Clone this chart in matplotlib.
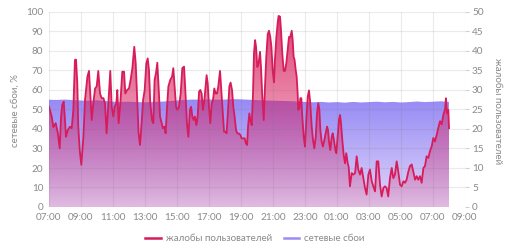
import numpy as np
import matplotlib
matplotlib.use("Agg")
import matplotlib.pyplot as plt
from matplotlib.patches import Polygon
from matplotlib.lines import Line2D

plt.rcParams['font.family'] = ['Lato', 'DejaVu Sans']

# ---------------- data ----------------
x_tick_labels = ["07:00", "09:00", "11:00", "13:00", "15:00", "17:00", "19:00",
                 "21:00", "23:00", "01:00", "03:00", "05:00", "07:00", "09:00"]

# complaints (right axis), hours since 07:00
complaints_h = [
    0.00, 0.17, 0.27, 0.42, 0.55, 0.67, 0.75, 0.83, 0.92, 1.00, 1.06, 1.17, 1.31, 1.42, 1.52,
    1.62, 1.69, 1.77, 1.83, 1.92, 2.02, 2.15, 2.25, 2.40, 2.50, 2.58, 2.67, 2.77, 2.88, 2.98,
    3.08, 3.19, 3.29, 3.40, 3.50, 3.60, 3.71, 3.83, 3.92, 4.02, 4.10, 4.21, 4.27, 4.35, 4.46,
    4.58, 4.69, 4.77, 4.88, 5.00, 5.10, 5.21, 5.33, 5.42, 5.50, 5.60, 5.69, 5.79, 5.88, 5.98,
    6.08, 6.17, 6.25, 6.33, 6.44, 6.52, 6.60, 6.69, 6.77, 6.85, 6.94, 7.04, 7.12, 7.21, 7.29,
    7.38, 7.46, 7.58, 7.69, 7.77, 7.85, 7.94, 8.02, 8.12, 8.23, 8.33, 8.44, 8.52, 8.62, 8.71,
    8.81, 8.88, 8.96, 9.04, 9.12, 9.21, 9.29, 9.38, 9.46, 9.54, 9.62, 9.71, 9.79, 9.85, 9.92,
    10.00, 10.08, 10.17, 10.25, 10.33, 10.42, 10.50, 10.58, 10.69, 10.77, 10.85, 10.94, 11.02,
    11.10, 11.19, 11.27, 11.35, 11.44, 11.52, 11.60, 11.69, 11.77, 11.88, 11.96, 12.04, 12.15,
    12.23, 12.31, 12.38, 12.44, 12.52, 12.60, 12.67, 12.75, 12.81, 12.88, 12.94, 13.02, 13.10,
    13.19, 13.25, 13.33, 13.42, 13.50, 13.58, 13.67, 13.75, 13.83, 13.90, 13.98, 14.06, 14.12,
    14.21, 14.29, 14.35, 14.44, 14.50, 14.58, 14.67, 14.75, 14.83, 14.92, 15.00, 15.08, 15.17,
    15.23, 15.29, 15.35, 15.42, 15.48, 15.54, 15.58, 15.65, 15.71, 15.77, 15.83, 15.92, 16.00,
    16.08, 16.17, 16.25, 16.33, 16.42, 16.50, 16.58, 16.67, 16.75, 16.83, 16.90, 16.96, 17.04,
    17.12, 17.21, 17.29, 17.38, 17.44, 17.50, 17.58, 17.67, 17.73, 17.81, 17.90, 17.96, 18.04,
    18.12, 18.19, 18.25, 18.33, 18.42, 18.50, 18.58, 18.67, 18.73, 18.81, 18.92, 19.02, 19.13,
    19.23, 19.33, 19.44, 19.54, 19.65, 19.75, 19.85, 19.96, 20.06, 20.17, 20.27, 20.38, 20.48,
    20.58, 20.69, 20.79, 20.90, 21.00, 21.10, 21.20, 21.31, 21.42, 21.52, 21.62, 21.73, 21.83,
    21.94, 22.04, 22.15, 22.25, 22.35, 22.46, 22.56, 22.67, 22.77, 22.88, 22.98, 23.08, 23.19,
    23.29, 23.40, 23.50, 23.60, 23.71, 23.81, 23.92, 24.02, 24.12, 24.23, 24.33, 24.44, 24.54,
    24.65, 24.75, 24.81, 24.88, 24.96, 25.00]
complaints = [
    25.7, 23.2, 20.5, 21.5, 19.0, 15.0, 23.0, 26.2, 27.0, 22.3, 18.0, 19.7, 20.6, 20.2, 24.9,
    37.7, 37.8, 31.7, 20.6, 14.6, 10.8, 18.0, 27.4, 33.4, 34.9, 29.1, 22.3, 26.6, 30.4, 30.9,
    34.9, 29.1, 27.9, 27.9, 26.6, 18.9, 26.6, 34.9, 25.7, 23.2, 25.7, 26.6, 30.0, 21.5, 26.6,
    34.7, 34.7, 29.1, 30.0, 30.4, 32.6, 35.6, 41.1, 36.8, 29.1, 18.9, 15.9, 21.5, 27.4, 30.0,
    36.8, 38.1, 35.1, 26.6, 22.3, 21.5, 32.6, 34.4, 37.0, 30.9, 23.2, 21.5, 20.2, 20.6, 18.9,
    25.7, 30.9, 32.6, 33.4, 35.6, 30.9, 25.7, 24.9, 25.7, 29.1, 35.6, 36.0, 30.0, 21.5, 18.0,
    24.9, 25.7, 23.2, 22.3, 23.2, 21.0, 23.2, 29.6, 30.0, 29.1, 24.9, 27.4, 30.9, 33.8, 31.7,
    25.7, 21.5, 26.6, 27.4, 30.4, 29.1, 29.1, 30.9, 34.9, 30.0, 24.9, 19.3, 19.3,
    18.9, 24.9, 30.9, 31.9, 30.0, 25.7, 23.2, 19.7, 18.9, 18.8, 18.5, 17.6, 17.6,
    17.6, 16.3, 15.9, 20.6, 24.0, 22.0, 21.0, 29.1, 39.4, 42.8, 41.1, 35.9, 36.8,
    39.8, 35.9, 28.3, 22.3, 30.9, 38.5, 44.3, 45.2, 43.6, 41.1, 35.1, 32.0, 37.7,
    43.6, 47.1, 49.0, 48.8, 45.4, 39.4, 34.9, 34.9, 36.8, 40.3, 43.6, 43.6, 45.2,
    42.8, 38.5, 37.7, 35.1, 33.4, 29.1, 24.9, 25.3, 27.9, 27.9, 23.2, 18.0, 15.5,
    22.3, 28.3, 29.9, 26.6, 20.6, 17.2, 15.0, 18.0, 24.0, 26.6, 24.9, 19.7, 16.8,
    15.5, 17.2, 18.9, 20.6, 19.7, 16.8, 14.6, 18.0, 18.9, 17.2, 14.6, 13.8, 18.0,
    22.3, 23.6, 21.5, 17.2, 13.3, 11.2, 13.8, 11.2, 10.3, 5.3, 8.7, 8.3, 8.7,
    13.0, 9.6, 8.3, 10.0, 7.4, 4.9, 3.2, 8.3, 9.6, 6.6, 5.3, 4.0, 11.7,
    11.7, 5.7, 2.7, 4.9, 5.3, 4.9, 2.7, 7.4, 10.0, 7.4, 8.3, 11.7, 9.1,
    5.7, 5.3, 6.6, 6.2, 7.0, 9.1, 10.5, 10.9, 9.1, 7.0, 7.9, 7.0, 7.9,
    6.2, 10.0, 10.5, 13.0, 12.6, 14.3, 15.6, 17.7, 16.8, 18.5, 20.3, 22.0, 21.2,
    23.7, 25.0, 27.9, 24.0, 24.9, 20.2]

# network failures, % (left axis), every 30 minutes from 07:00
failures_h = [i * 0.5 for i in range(51)]
failures = [55.0, 54.9, 55.1, 54.8, 54.6, 54.5, 54.7, 54.4, 54.0, 53.9, 54.0, 53.8, 53.7,
            53.9, 54.0, 54.3, 54.6, 54.9, 55.1, 55.0, 55.2, 55.0, 55.1, 55.3, 55.2, 55.0,
            54.8, 54.6, 54.5, 54.4, 54.3, 54.1, 53.9, 53.7, 53.9, 53.6, 53.8, 53.5, 53.9,
            53.6, 53.8, 54.0, 53.7, 53.9, 53.6, 53.8, 54.1, 53.8, 54.0, 54.2, 53.9]

# ---------------- styling ----------------
RED = '#d81b5a'
BLUE = '#9a8cf0'
TXT = '#8a8a8a'

fig = plt.figure(figsize=(5.1, 2.46), dpi=100)
ax1 = fig.add_axes([49 / 510, 1 - 207 / 246, 416 / 510, 195 / 246])
ax2 = ax1.twinx()

ax1.set_xlim(0, 26)
ax1.set_ylim(0, 100)
ax2.set_ylim(0, 50)

# blue gradient area
vv = np.linspace(0, 100, 400)[:, None]
top = np.array([150, 138, 245]) / 255.0
bot = np.array([226, 216, 249]) / 255.0
frac = np.clip(vv / 55.0, 0, 1)
bimg = bot + (top - bot) * frac
bimg = np.repeat(bimg[:, None, :], 2, axis=1).reshape(400, 2, 3)
poly_b = Polygon([(failures_h[0], 0)] + list(zip(failures_h, failures)) + [(failures_h[-1], 0)],
                 closed=True, facecolor='none', edgecolor='none')
ax1.add_patch(poly_b)
im1 = ax1.imshow(bimg, extent=[0, 26, 0, 100], origin='lower', aspect='auto',
                 interpolation='bilinear', zorder=1)
im1.set_clip_path(poly_b)

# red gradient area
vr = np.linspace(0, 50, 400)
rimg = np.zeros((400, 2, 4))
rimg[..., 0] = 216 / 255
rimg[..., 1] = 27 / 255
rimg[..., 2] = 90 / 255
alpha = 0.15 + 0.70 * (vr / 50.0)
rimg[..., 3] = alpha[:, None]
poly_r = Polygon([(complaints_h[0], 0)] + list(zip(complaints_h, complaints)) + [(complaints_h[-1], 0)],
                 closed=True, facecolor='none', edgecolor='none')
ax2.add_patch(poly_r)
im2 = ax2.imshow(rimg, extent=[0, 26, 0, 50], origin='lower', aspect='auto',
                 interpolation='bilinear', zorder=1)
im2.set_clip_path(poly_r)
ax2.set_xlim(0, 26)
ax2.set_ylim(0, 50)

ax2.plot(complaints_h, complaints, color=RED, lw=1.3, zorder=3, solid_joinstyle='round')

# grid (drawn on top, semi-transparent)
for y in range(0, 101, 10):
    ax2.axhline(y / 2, color=(0.45, 0.45, 0.45, 0.14), lw=0.8, zorder=4)
for x in range(0, 27, 2):
    ax2.axvline(x, color=(0.45, 0.45, 0.45, 0.14), lw=0.8, zorder=4)

# ticks
ax1.set_xticks(range(0, 27, 2))
ax1.set_xticklabels(x_tick_labels)
ax1.set_yticks(range(0, 101, 10))
ax2.set_yticks(range(0, 51, 5))
ax1.tick_params(axis='both', length=0, labelsize=7.2, colors=TXT, pad=4)
ax2.tick_params(axis='y', length=3, width=0.8, color='#d0d0d0', labelsize=7.2,
                labelcolor=TXT, pad=2)
for ax in (ax1, ax2):
    for s in ax.spines.values():
        s.set_visible(False)

fig.text(0.03, 0.55, 'сетевые сбои, %', rotation=90, ha='center', va='center',
         fontsize=7, color=TXT)
fig.text(0.975, 0.55, 'жалобы пользователей', rotation=270, ha='center', va='center',
         fontsize=7, color=TXT)

handles = [Line2D([0], [0], color=RED, lw=1.8), Line2D([0], [0], color=BLUE, lw=1.8)]
leg = fig.legend(handles, ['жалобы пользователей', 'сетевые сбои'], loc='center',
                 bbox_to_anchor=(0.5, 0.03), ncol=2, frameon=False, fontsize=7,
                 handlelength=1.6, columnspacing=1.2, handletextpad=0.5)
for t in leg.get_texts():
    t.set_color(TXT)

fig.savefig('out.png', dpi=100)
